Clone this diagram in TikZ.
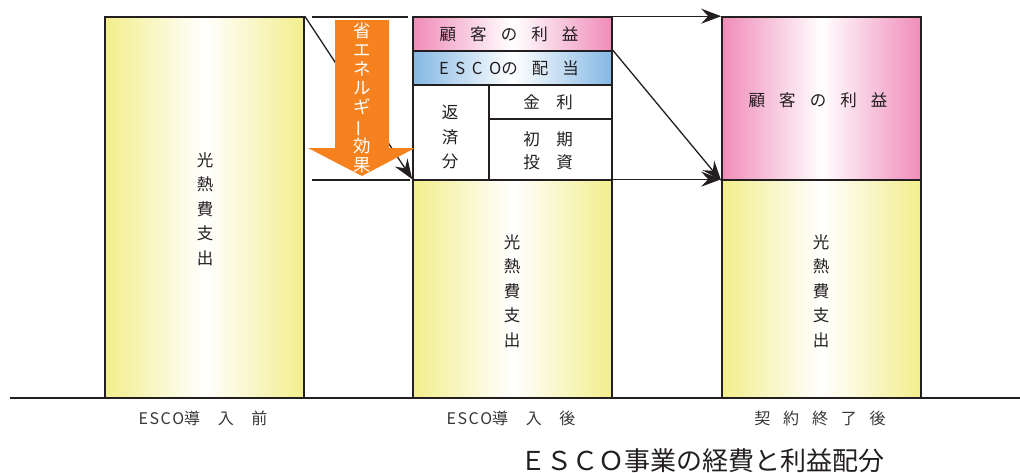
\documentclass[tikz,border=0pt]{standalone}
\usepackage{fontspec}
\setmainfont{Noto Sans CJK JP}
\usetikzlibrary{arrows.meta}
\definecolor{ylw}{HTML}{F2EE8C}
\definecolor{pnk}{HTML}{F08CB9}
\definecolor{blu}{HTML}{84B8E4}
\definecolor{org}{HTML}{F5821F}
\definecolor{lc}{HTML}{231F20}
\newcommand{\gp}{\hspace{0.85em}}
\begin{document}
\begin{tikzpicture}[x=1pt,y=-1pt,
  box/.style={draw=lc, line width=1.6pt, inner sep=0pt, minimum width=199pt},
  yel/.style={box, left color=ylw, right color=ylw, middle color=white},
  pk/.style={box, left color=pnk, right color=pnk, middle color=white},
  bl/.style={box, left color=blu, right color=blu, middle color=white},
  wh/.style={box, fill=white},
  conn/.style={draw=lc, line width=1.3pt},
  arr/.style={conn, -{Stealth[length=20pt,width=15pt,inset=7pt]}},
  txt/.style={font=\fontsize{16.5}{24.5}\selectfont, align=center, text=lc, inner sep=0pt},
  lbl/.style={font=\fontsize{16}{16}\selectfont, text=lc!90, inner sep=0pt}
]
\useasboundingbox (0,0) rectangle (1020,472);
% baseline
\draw[lc, line width=1.6pt] (10,398) coordinate (b0) -- (1020,398) coordinate (b1);
% left bar
\node[yel, minimum height=381pt] (L) at (204.5,207.5) {};
\node[txt] (Lt) at (205,209) {光\\熱\\費\\支\\出};
% middle column
\node[pk, minimum height=34pt] (MP) at (512.5,34) {};
\node[bl, minimum height=34pt] (MB) at (512.5,68) {};
\node[wh, minimum height=95pt] (MW) at (512.5,132.5) {};
\node[yel, minimum height=218pt] (MY) at (512.5,289) {};
\coordinate (d1) at (489,85);
\coordinate (d2) at (489,180);
\coordinate (d3) at (489,119);
\coordinate (d4) at (612,119);
\draw[conn, line width=1.6pt] (d1) -- (d2);
\draw[conn, line width=1.6pt] (d3) -- (d4);
\node[txt] (t1) at (509,34) {顧\gp 客\gp の\gp 利\gp 益};
\node[txt] (t2) at (509,68) {E\hspace{0.4em}S\hspace{0.4em}C\hspace{0.4em}Oの\gp 配\gp 当};
\node[txt] (t3) at (450,137) {返\\済\\分};
\node[txt] (t4) at (548,102) {金\hspace{1em}利};
\node[txt, font=\fontsize{16.5}{23}\selectfont] (t5) at (548,151) {初\hspace{1em}期\\投\hspace{1em}資};
\node[txt] (Mt) at (512,291) {光\\熱\\費\\支\\出};
% right column
\node[pk, minimum height=163pt] (RP) at (821.5,98.5) {};
\node[yel, minimum height=218pt] (RY) at (821.5,289) {};
\node[txt] (t6) at (818,100) {顧\gp 客\gp の\gp 利\gp 益};
\node[txt] (Rt) at (821,291) {光\\熱\\費\\支\\出};
% connectors
\draw[arr] (L.north east) -- (MY.north west);
\coordinate (h1) at (312,17);
\coordinate (h2) at (408,17);
\coordinate (h3) at (312,180);
\coordinate (h4) at (410,180);
\draw[conn] (h1) -- (h2);
\draw[conn] (h3) -- (h4);
\draw[arr] (MP.north east) -- (RP.north west);
\draw[arr] (MB.north east) -- (RP.south west);
\draw[arr] (MY.north east) -- (RY.north west);
% orange arrow
\fill[org] (335,20) -- (389,20) -- (389,148) -- (415,148) -- (362,176) -- (308,148) -- (335,148) -- cycle;
\node[txt, font=\fontsize{17.5}{19}\selectfont, text=white] (oa) at (362,98) {省\\エ\\ネ\\ル\\ギ\\\rotatebox[origin=c]{90}{ー}\\効\\果};
% labels
\node[lbl] (l1) at (203,418) {E\hspace{1.5pt}S\hspace{1.5pt}C\hspace{1.5pt}O導\hspace{1.1em}入\hspace{1.1em}前};
\node[lbl] (l2) at (511,418) {E\hspace{1.5pt}S\hspace{1.5pt}C\hspace{1.5pt}O導\hspace{1.1em}入\hspace{1.1em}後};
\node[lbl] (l3) at (820,418) {契\hspace{0.8em}約\hspace{0.8em}終\hspace{0.8em}了\hspace{0.8em}後};
\node[lbl, font=\fontsize{26}{26}\selectfont, text=lc] (ti) at (702,461) {ＥＳＣＯ事業の経費と利益配分};
\end{tikzpicture}
\end{document}
